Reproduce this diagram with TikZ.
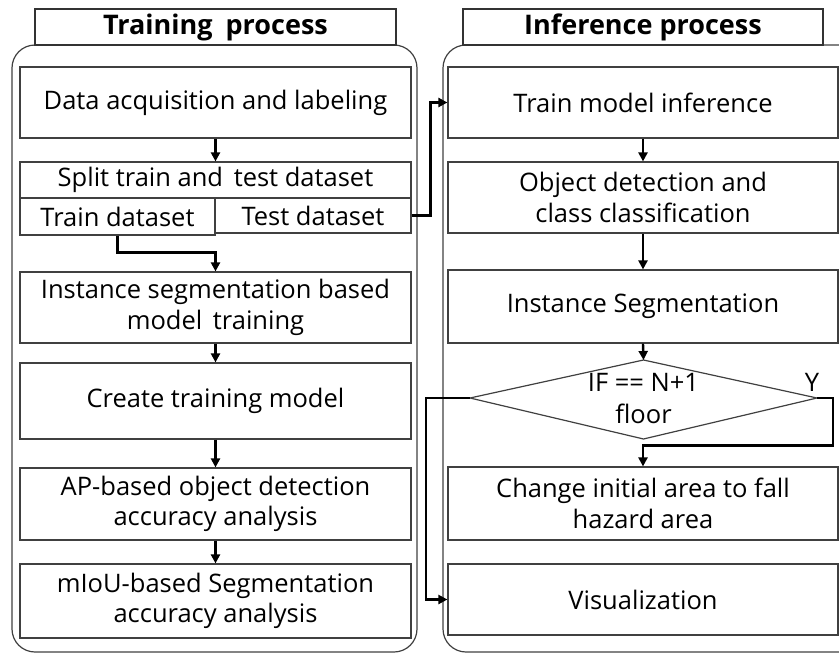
\documentclass[tikz,border=0pt]{standalone}
\usepackage{fontspec}
\setmainfont{Open Sans}
\usetikzlibrary{arrows.meta,calc}

\tikzset{
  box/.style={draw=black!75, line width=1.2pt, fill=white, inner sep=0pt,
    align=center, font=\fontsize{25.5}{30.5}\selectfont},
  title/.style={draw=black!80, line width=1.2pt, fill=white, inner sep=0pt,
    font=\fontsize{27}{32}\selectfont\bfseries},
  frame/.style={draw=black!75, line width=1.2pt, rounded corners=23pt},
  flow/.style={draw=black, line width=2.4pt,
    -{Triangle[length=9pt,width=9pt]}},
}

\begin{document}
\begin{tikzpicture}[x=1pt,y=-1pt]
\useasboundingbox (0,0) rectangle (839,653);
\begin{scope}
\clip (0,0) rectangle (839,653);

% outer frames of the two processes
\draw[frame] (12,45) rectangle (417,652);
\draw[frame] (443,45) rectangle (864,652);

% headings
\node[title, minimum width=361, minimum height=36] (ttl) at (215.5,27) {Training\hspace{6pt} process};
\node[title, minimum width=360, minimum height=36] (itl) at (643,27) {Inference process};

% training column
\node[box, minimum width=391, minimum height=71] (data) at (215.5,102.5) {Data acquisition and labeling};
\node[box, minimum width=391, minimum height=36] (split) at (215.5,180) {Split train and\hspace{4pt} test dataset};
\node[box, minimum width=195, minimum height=37] (traind) at (117.5,216.5) {Train dataset};
\node[box, minimum width=196, minimum height=35] (testd) at (313,215.5) {Test dataset};
\node[box, minimum width=391, minimum height=71] (inst) at (215.5,307.5) {Instance segmentation based\\model\hspace{4pt} training};
\node[box, minimum width=391, minimum height=76] (create) at (215.5,401) {Create training model};
\node[box, minimum width=391, minimum height=72] (ap) at (215.5,504) {AP-based object detection\\accuracy analysis};
\node[box, minimum width=391, minimum height=74] (miou) at (215.5,601) {mIoU-based Segmentation\\accuracy analysis};

% inference column
\node[box, minimum width=390, minimum height=71] (tmi) at (643,102.5) {Train model inference};
\node[box, minimum width=390, minimum height=71] (odc) at (643,197.5) {Object detection and\\class classification};
\node[box, minimum width=390, minimum height=73] (iseg) at (643,306.5) {Instance Segmentation};
% decision diamond
\coordinate (dtop) at (643.5,360);
\coordinate (dbot) at (643.5,439);
\coordinate (dlft) at (470,398);
\coordinate (drgt) at (817,398);
\draw[draw=black!75, line width=1.2pt, fill=white] (dtop) -- (drgt) -- (dbot) -- (dlft) -- cycle;
\node[align=center, inner sep=0pt, font=\fontsize{25.5}{32}\selectfont] (dtext) at (643.5,399) {IF == N+1\\floor};
\node[inner sep=0pt, font=\fontsize{25.5}{30}\selectfont] (ylab) at (812,382) {Y};
\node[box, minimum width=390, minimum height=73] (change) at (643,503.5) {Change initial area to fall\\hazard area};
\node[box, minimum width=390, minimum height=71] (vis) at (643,599.5) {Visualization};

% connectors, training column
\draw[flow] (data.south) -- (split.north);
\draw[flow] (traind.south) -- ++(0,17) -| (inst.north);
\draw[flow] (inst.south) -- (create.north);
\draw[flow] (create.south) -- (ap.north);
\draw[flow] (ap.south) -- (miou.north);
\draw[flow] (testd.east) -- ++(19,0) |- (tmi.west);

% connectors, inference column
\draw[flow] (tmi.south) -- (odc.north);
\draw[flow] (odc.south) -- (iseg.north);
\draw[flow] (iseg.south) -- (dtop);
\draw[flow] (drgt) -- ++(16,0) |- ($(change.north)+(0,-21)$) -- (change.north);
\draw[flow] (dlft) -- ++(-44,0) |- (vis.west);
\end{scope}
\end{tikzpicture}
\end{document}
